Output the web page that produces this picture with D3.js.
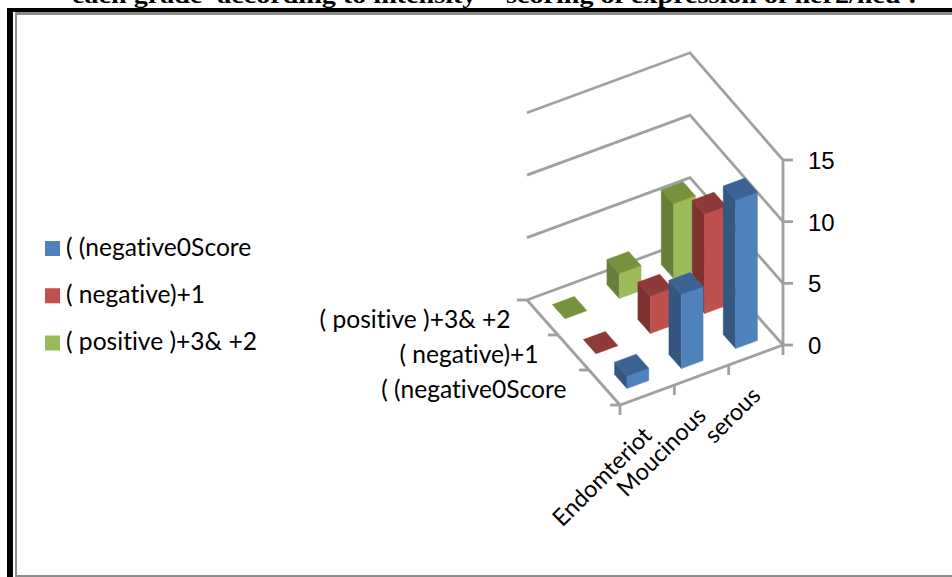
<!DOCTYPE html>
<html><head><meta charset="utf-8">
<style>html,body{margin:0;padding:0;background:#fff;overflow:hidden}svg{display:block}text{font-variant-ligatures:none}</style>
<script src="https://cdnjs.cloudflare.com/ajax/libs/d3/7.8.5/d3.min.js"></script>
</head><body><svg id="c" width="952" height="577"></svg>
<script>
const categories = ["Endomteriot", "Moucinous", "serous"];
const seriesNames = ["( (negative0Score", "( negative)+1", "( positive )+3& +2"];
const negative0 = [1, 6, 12];
const negative1 = [0, 3, 8];
const positive23 = [0, 2, 6];
const valueTicks = [0, 5, 10, 15];
const titleText = "each grade' according to intensity \" scoring of expression of her2/neu :";
const frontColors = ["#4F81BD", "#C0504D", "#9BBB59"];
const sideColors = ["#34567F", "#7E312F", "#66803A"];
const topColors = ["#3B6292", "#8E3A38", "#76923C"];

const seriesValues = [negative0, negative1, positive23];
const svg = d3.select("#c");
const axisColor = "#A0A0A0";
const sans = "Lato, 'Open Sans', sans-serif";

// Oblique projection of the 3-D box, with a slight perspective growth toward the back
const front = [620, 405], xVec = [163, -60], zVec = [-93, -105];
const xBand = d3.scaleBand().domain(categories).range([0, 1]).paddingInner(0.6).paddingOuter(0.3);
const zBand = d3.scaleBand().domain(seriesNames).range([0, 1]).paddingInner(0.6).paddingOuter(0.3);
const yScale = d3.scaleLinear().domain([0, 15]).range([0, 185]);
const P = (x, z, v) => [front[0] + x * xVec[0] + z * zVec[0], front[1] + x * xVec[1] + z * zVec[1] - yScale(v) * (1 + 0.012 * z)];
const pts = a => a.map(p => p.join(",")).join(" ");

// Page furniture: title clipped by the top of the page, frame
svg.append("text").attr("x", 72).attr("y", 3).attr("textLength", 845).attr("lengthAdjust", "spacingAndGlyphs")
  .attr("font-family", "'Liberation Serif', serif").attr("font-weight", "bold").attr("font-size", 23).attr("fill", "#000").text(titleText);
svg.append("rect").attr("x", 7).attr("y", 8).attr("width", 945).attr("height", 4).attr("fill", "#000");
svg.append("rect").attr("x", 7).attr("y", 8).attr("width", 6).attr("height", 569).attr("fill", "#000");
svg.append("rect").attr("x", 15).attr("y", 12).attr("width", 937).attr("height", 3).attr("fill", "#8c8c8c");
svg.append("rect").attr("x", 15).attr("y", 12).attr("width", 2).attr("height", 565).attr("fill", "#8c8c8c");
svg.append("rect").attr("x", 15).attr("y", 575).attr("width", 937).attr("height", 2).attr("fill", "#8c8c8c");

// Walls and floor lines
const lines = svg.append("g").attr("stroke", axisColor).attr("stroke-width", 2.8).attr("fill", "none").attr("stroke-linejoin", "miter");
lines.selectAll("polyline.grid").data(valueTicks).join("polyline").attr("class", "grid")
  .attr("points", v => pts([P(0, 1, v), P(1, 1, v), P(1, 0, v)]));
lines.append("polyline").attr("points", pts([P(0, 1, 0), P(0, 0, 0), P(1, 0, 0)]));
lines.append("polyline").attr("points", pts([P(1, 0, 0), P(1, 0, 15)]));
// Value ticks
lines.selectAll("line.vt").data(valueTicks).join("line").attr("class", "vt")
  .attr("x1", v => P(1, 0, v)[0]).attr("x2", v => P(1, 0, v)[0] + 10)
  .attr("y1", v => P(1, 0, v)[1]).attr("y2", v => P(1, 0, v)[1]);
// Category ticks
const tickFracs = d3.range(categories.length + 1).map(i => i / categories.length);
lines.selectAll("line.ct").data(tickFracs).join("line").attr("class", "ct")
  .attr("x1", f => P(f, 0, 0)[0]).attr("x2", f => P(f, 0, 0)[0])
  .attr("y1", f => P(f, 0, 0)[1]).attr("y2", f => P(f, 0, 0)[1] + 10);
// Series ticks
const depthFracs = d3.range(seriesNames.length + 1).map(i => i / seriesNames.length);
lines.selectAll("line.dt").data(depthFracs).join("line").attr("class", "dt")
  .attr("x1", f => P(0, f, 0)[0]).attr("x2", f => P(0, f, 0)[0] - 10)
  .attr("y1", f => P(0, f, 0)[1]).attr("y2", f => P(0, f, 0)[1]);

// Bars, back row first
const dx = xBand.bandwidth(), dz = zBand.bandwidth();
const bars = [];
[2, 1, 0].forEach(s => categories.forEach((c, i) => bars.push({ s, c, v: seriesValues[s][i] })));
const barG = svg.selectAll("g.bar").data(bars).join("g").attr("class", "bar");
const zOf = d => zBand(seriesNames[d.s]);
barG.append("polygon").attr("fill", d => sideColors[d.s]).attr("stroke", d => sideColors[d.s]).attr("stroke-width", 0.5)
  .attr("points", d => { const x = xBand(d.c), z = zOf(d); return pts([P(x, z, 0), P(x, z + dz, 0), P(x, z + dz, d.v), P(x, z, d.v)]); });
barG.append("polygon").attr("fill", d => frontColors[d.s]).attr("stroke", d => frontColors[d.s]).attr("stroke-width", 0.5)
  .attr("points", d => { const x = xBand(d.c), z = zOf(d); return pts([P(x, z, 0), P(x + dx, z, 0), P(x + dx, z, d.v), P(x, z, d.v)]); });
barG.append("polygon").attr("fill", d => topColors[d.s]).attr("stroke", d => topColors[d.s]).attr("stroke-width", 0.5)
  .attr("points", d => { const x = xBand(d.c), z = zOf(d); return pts([P(x, z, d.v), P(x + dx, z, d.v), P(x + dx, z + dz, d.v), P(x, z + dz, d.v)]); });

// Value labels
svg.selectAll("text.vl").data(valueTicks).join("text").attr("class", "vl")
  .attr("x", 808).attr("y", v => P(1, 0, v)[1] + 9)
  .attr("font-family", "'Liberation Sans', Arial, sans-serif").attr("font-size", 24).attr("fill", "#000").text(d => d);
// Category labels
svg.selectAll("text.cl").data(categories).join("text").attr("class", "cl")
  .attr("transform", c => { const p = P(xBand(c) + dx / 2, 0, 0); return `translate(${p[0] + 6},${p[1] + 42}) rotate(-45)`; })
  .attr("text-anchor", "end").attr("font-family", sans).attr("font-size", 23.5).attr("fill", "#000").text(d => d);
// Series labels
svg.selectAll("text.sl").data(seriesNames).join("text").attr("class", "sl")
  .attr("x", s => { const z = zBand(s) + dz / 2; return P(0, z, 0)[0] - 39.5 + 9 * z; })
  .attr("y", s => P(0, zBand(s) + dz / 2, 0)[1] + 10)
  .attr("text-anchor", "end").attr("font-family", sans).attr("font-size", 24.6).attr("fill", "#000").text(d => d);

// Legend
const legendY = d3.scalePoint().domain(seriesNames).range([248.5, 343]);
const leg = svg.selectAll("g.leg").data(seriesNames).join("g").attr("class", "leg")
  .attr("transform", s => `translate(45,${legendY(s)})`);
leg.append("rect").attr("y", -7.5).attr("width", 15).attr("height", 15).attr("fill", (s, i) => frontColors[i]);
leg.append("text").attr("x", 21).attr("y", 7).attr("font-family", sans).attr("font-size", 24.6).attr("fill", "#000").text(d => d);
</script></body></html>
